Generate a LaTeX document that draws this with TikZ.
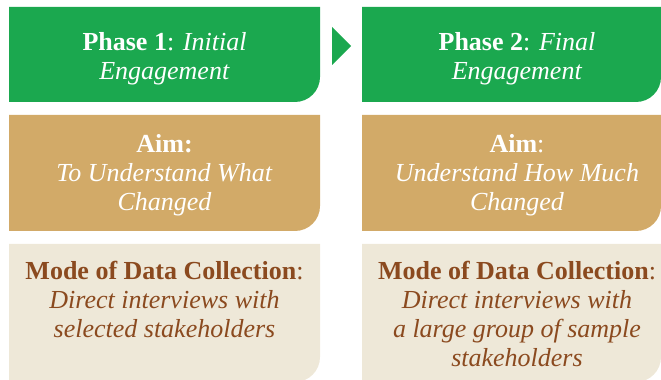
\documentclass[tikz,border=0pt]{standalone}
\usepackage{fontspec}
\setmainfont{Liberation Serif}

\definecolor{phasegreen}{HTML}{1BA84F}
\definecolor{aimgold}{HTML}{D2AA68}
\definecolor{modebeige}{HTML}{EEE8D8}
\definecolor{modebrown}{HTML}{8B4A1F}

\tikzset{
	boxtext/.style={inner sep=0pt, align=center, anchor=north,
		font=\fontsize{26}{29}\selectfont},
	lighttext/.style={boxtext, text=white},
	darktext/.style={boxtext, text=modebrown}
}

% box with only its lower right corner rounded: left, top, right, bottom, colour
\newcommand{\cornerbox}[5]{%
	\fill[#5] (#1,#2) -- (#3,#2) -- (#3,#4+25)
	arc[start angle=0, end angle=-90, radius=25pt] -- (#1,#4) -- cycle;}

\begin{document}
\begin{tikzpicture}[x=1pt,y=1pt]
	\useasboundingbox (0,0) rectangle (661,380);
	\clip (0,0) rectangle (661,380);

	\cornerbox{9}{373}{320}{278}{phasegreen}
	\cornerbox{362}{373}{661}{278}{phasegreen}
	\cornerbox{9}{265}{320}{149}{aimgold}
	\cornerbox{362}{265}{661}{149}{aimgold}
	\cornerbox{9}{136}{320}{-2}{modebeige}
	\cornerbox{362}{136}{661}{-2}{modebeige}

	\path (332,353) coordinate(t1)
	(351,334) coordinate(t2)
	(332,315) coordinate(t3);
	\fill[phasegreen] (t1) -- (t2) -- (t3) -- cycle;

	\node[lighttext] (phase1) at (164.5,348)
		{\textbf{Phase 1}: \textit{Initial}\\ \textit{Engagement}};
	\node[lighttext] (phase2) at (517,348)
		{\textbf{Phase 2}: \textit{Final}\\ \textit{Engagement}};
	\node[lighttext] (aim1) at (164.5,246)
		{\textbf{Aim:}\\ \textit{To Understand What}\\ \textit{Changed}};
	\node[lighttext] (aim2) at (517,246)
		{\textbf{Aim}:\\ \textit{Understand How Much}\\ \textit{Changed}};
	\node[darktext] (mode1) at (164.5,119)
		{\textbf{Mode of Data Collection}:\\ \textit{Direct interviews with}\\
		\textit{selected stakeholders}};
	\node[darktext] (mode2) at (517,119)
		{\textbf{Mode of Data Collection}:\\ \textit{Direct interviews with}\\
		\textit{a large group of sample}\\ \textit{stakeholders}};
\end{tikzpicture}
\end{document}
